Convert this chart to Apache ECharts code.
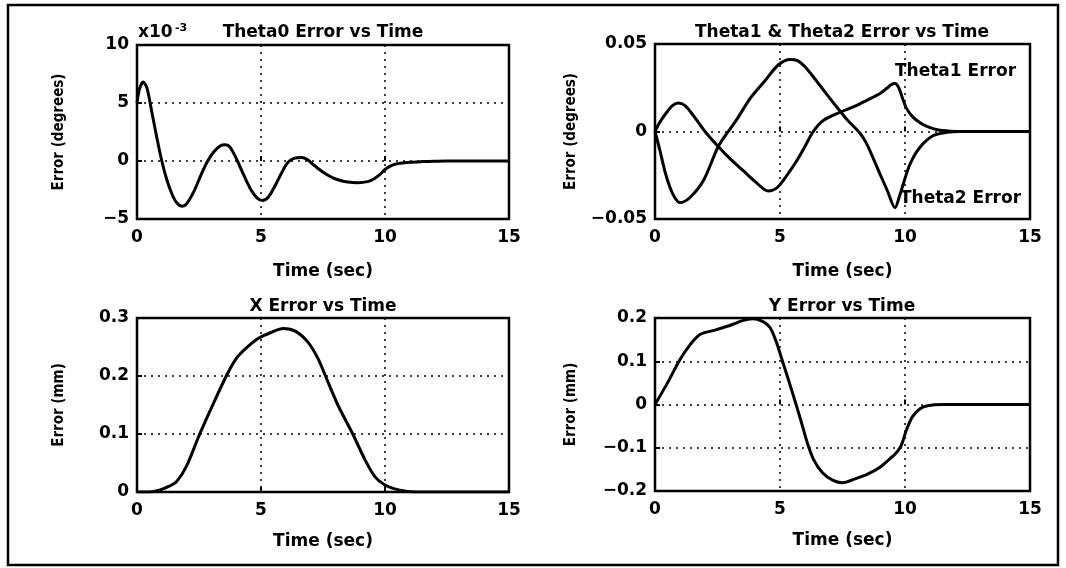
<!DOCTYPE html>
<html>
<head>
<meta charset="utf-8">
<script src="https://cdn.jsdelivr.net/npm/echarts@6/dist/echarts.min.js"></script>
<style>
  html, body { margin: 0; padding: 0; background: #fff; }
  #chart { width: 1066px; height: 568px; }
</style>
</head>
<body>
<div id="chart"></div>
<script>
// Theta0 error, in units of 1e-3 degrees
const theta0Time = [0, 0.1, 0.25, 0.4, 0.6, 0.8, 1.0, 1.2, 1.4, 1.6, 1.83, 2.0, 2.3, 2.6, 2.85, 3.1, 3.35, 3.55, 3.75, 4.05, 4.3, 4.6, 4.85, 5.05, 5.3, 5.6, 5.85, 6.05, 6.25, 6.45, 6.65, 6.85, 7.05, 7.3, 7.6, 7.9, 8.2, 8.5, 8.9, 9.3, 9.55, 9.8, 10.05, 10.3, 10.6, 11.0, 11.5, 12.0, 12.5, 15];
const theta0Err = [5.0, 6.2, 6.8, 6.3, 4.2, 2.0, 0, -1.6, -2.8, -3.6, -3.9, -3.7, -2.6, -1.1, 0, 0.8, 1.3, 1.4, 1.2, 0, -1.2, -2.5, -3.2, -3.4, -3.1, -2.0, -0.95, -0.2, 0.15, 0.28, 0.3, 0.15, -0.2, -0.65, -1.1, -1.45, -1.68, -1.82, -1.87, -1.78, -1.55, -1.15, -0.65, -0.35, -0.2, -0.1, -0.05, -0.02, 0, 0];

// Theta1 / Theta2 error (degrees)
const theta1Time = [0, 0.2, 0.47, 0.7, 0.93, 1.2, 1.53, 2.0, 2.53, 3.0, 3.53, 4.0, 4.53, 4.85, 5.13, 5.4, 5.67, 6.0, 6.33, 6.73, 7.4, 8.0, 8.47, 9.0, 9.3, 9.45, 9.6, 9.75, 9.9, 10.05, 10.3, 10.6, 10.9, 11.3, 11.8, 12.3, 15];
const theta1Err = [0, 0.0055, 0.011, 0.0148, 0.0163, 0.0148, 0.0092, 0, -0.0086, -0.0155, -0.0224, -0.0285, -0.034, -0.0325, -0.028, -0.0225, -0.0167, -0.0085, 0, 0.0063, 0.011, 0.0145, 0.0178, 0.0217, 0.025, 0.0268, 0.0274, 0.025, 0.019, 0.0135, 0.0085, 0.005, 0.0028, 0.001, 0.0002, 0, 0];
const theta2Time = [0, 0.2, 0.4, 0.6, 0.8, 1.0, 1.4, 1.93, 2.53, 2.93, 3.3, 3.8, 4.4, 4.93, 5.4, 5.7, 6.0, 6.4, 6.8, 7.27, 7.7, 8.2, 8.47, 9.0, 9.3, 9.6, 9.8, 9.93, 10.2, 10.6, 11.13, 11.67, 12.2, 15];
const theta2Err = [0, -0.011, -0.023, -0.032, -0.038, -0.0406, -0.0377, -0.0282, -0.0086, 0, 0.0075, 0.0188, 0.029, 0.038, 0.0412, 0.0405, 0.037, 0.03, 0.0225, 0.014, 0.0065, -0.001, -0.0071, -0.0243, -0.034, -0.0435, -0.036, -0.03, -0.0186, -0.009, -0.0023, -0.0005, 0, 0];

// X / Y error (mm)
const xTime = [0, 0.5, 0.9, 1.3, 1.6, 2.0, 2.5, 3.0, 3.6, 4.0, 4.4, 4.9, 5.4, 5.9, 6.4, 6.9, 7.3, 7.6, 8.1, 8.7, 9.2, 9.6, 10.0, 10.6, 11.2, 15];
const xErr = [0, 0, 0.003, 0.01, 0.018, 0.045, 0.097, 0.145, 0.2, 0.23, 0.248, 0.265, 0.275, 0.282, 0.277, 0.258, 0.23, 0.2, 0.15, 0.1, 0.055, 0.026, 0.012, 0.003, 0, 0];
const yTime = [0, 0.5, 1.0, 1.4, 1.8, 2.4, 3.1, 3.5, 3.9, 4.3, 4.6, 4.85, 5.1, 5.35, 5.6, 5.85, 6.1, 6.35, 6.7, 7.1, 7.5, 8.0, 8.5, 9.0, 9.4, 9.6, 9.8, 9.9, 10.05, 10.3, 10.6, 10.9, 11.5, 15];
const yErr = [0, 0.05, 0.104, 0.138, 0.162, 0.172, 0.185, 0.194, 0.198, 0.192, 0.178, 0.145, 0.1, 0.055, 0.008, -0.04, -0.09, -0.128, -0.158, -0.175, -0.181, -0.172, -0.161, -0.145, -0.125, -0.115, -0.1, -0.087, -0.06, -0.028, -0.01, -0.003, 0, 0];

// curve labels placed in data coordinates of the Theta1/Theta2 plot
const theta1LabelAt = [9.6, 0.034];
const theta2LabelAt = [9.8, -0.0385];

const timeTicks = { min: 0, max: 15, interval: 5 };
const yRanges = [
  { min: -5, max: 10, interval: 5 },
  { min: -0.05, max: 0.05, interval: 0.05 },
  { min: 0, max: 0.3, interval: 0.1 },
  { min: -0.2, max: 0.2, interval: 0.1 }
];
const yNames = ['Error (degrees)', 'Error (degrees)', 'Error (mm)', 'Error (mm)'];

const zip = (xs, ys) => xs.map((x, i) => [x, ys[i]]);

const FONT = '"DejaVu Sans", sans-serif';
const NARROW = '"DejaVu Sans Condensed", "Liberation Sans Narrow", "DejaVu Sans", sans-serif';

const grids = [
  { left: 137, top: 45, width: 372, height: 174 },
  { left: 655, top: 44, width: 375, height: 175 },
  { left: 137, top: 318, width: 372, height: 174 },
  { left: 655, top: 318, width: 375, height: 173 }
];
const yNameGaps = [70, 76, 70, 76];
const xNameGaps = [44, 44, 41, 41];

const dotted = { color: '#000', type: [2, 5], width: 1.5 };
const tickStyle = { inside: true, length: 5, lineStyle: { color: '#000', width: 2 } };
const labelStyle = { color: '#000', fontSize: 17, fontWeight: 'bold', fontFamily: FONT };

const chart = echarts.init(document.getElementById('chart'));

const curve = (data, i) => ({
  type: 'line',
  xAxisIndex: i,
  yAxisIndex: i,
  data: data,
  showSymbol: false,
  smooth: 0.3,
  lineStyle: { color: '#000', width: 3 },
  z: 3
});

const curveLabel = (pt, text, i) => ({
  type: 'scatter',
  xAxisIndex: i,
  yAxisIndex: i,
  data: [pt],
  symbolSize: 0,
  itemStyle: { color: '#000' },
  label: {
    show: true,
    position: 'right',
    distance: 0,
    formatter: text,
    color: '#000',
    opacity: 1,
    fontSize: 17,
    fontWeight: 'bold',
    fontFamily: FONT
  },
  emphasis: { disabled: true },
  z: 4
});

const titleText = (text, x, y) => ({
  type: 'text',
  x: x,
  y: y,
  style: { text: text, fill: '#000', font: 'bold 17px ' + FONT, textAlign: 'center', textVerticalAlign: 'middle' }
});

chart.setOption({
  animation: false,
  backgroundColor: '#fff',
  grid: grids.map(g => Object.assign({ show: true, borderColor: '#000', borderWidth: 2.5, backgroundColor: 'transparent' }, g)),
  xAxis: grids.map((g, i) => Object.assign({
    gridIndex: i,
    type: 'value',
    axisLine: { show: false },
    axisTick: tickStyle,
    axisLabel: Object.assign({ margin: 10 }, labelStyle),
    splitLine: { show: true, lineStyle: dotted },
    name: 'Time (sec)',
    nameLocation: 'middle',
    nameGap: xNameGaps[i],
    nameTextStyle: labelStyle
  }, timeTicks)),
  yAxis: grids.map((g, i) => Object.assign({
    gridIndex: i,
    type: 'value',
    axisLine: { show: false },
    axisTick: tickStyle,
    axisLabel: Object.assign({
      margin: 8,
      formatter: v => String(+v.toFixed(3)).replace('-', '\u2212')
    }, labelStyle),
    splitLine: { show: true, lineStyle: dotted },
    name: yNames[i],
    nameLocation: 'middle',
    nameRotate: 90,
    nameGap: yNameGaps[i],
    nameTextStyle: { color: '#000', fontSize: 15, fontWeight: 'bold', fontFamily: NARROW }
  }, yRanges[i])),
  series: [
    curve(zip(theta0Time, theta0Err), 0),
    curve(zip(theta1Time, theta1Err), 1),
    curve(zip(theta2Time, theta2Err), 1),
    curve(zip(xTime, xErr), 2),
    curve(zip(yTime, yErr), 3),
    curveLabel(theta1LabelAt, 'Theta1 Error', 1),
    curveLabel(theta2LabelAt, 'Theta2 Error', 1)
  ],
  graphic: [
    titleText('Theta0 Error vs Time', 323, 33),
    titleText('Theta1 & Theta2 Error vs Time', 842, 33),
    titleText('X Error vs Time', 323, 307),
    titleText('Y Error vs Time', 842, 307),
    {
      type: 'text', x: 138, y: 33,
      style: { text: 'x10', fill: '#000', font: 'bold 17px ' + FONT, textAlign: 'left', textVerticalAlign: 'middle' }
    },
    {
      type: 'text', x: 175, y: 28,
      style: { text: '-3', fill: '#000', font: 'bold 11px ' + FONT, textAlign: 'left', textVerticalAlign: 'middle' }
    },
    // mask for label overflow right of the Theta plot
    { type: 'rect', z: 90, shape: { x: 1032, y: 50, width: 25, height: 165 }, style: { fill: '#fff' } },
    // outer frame
    { type: 'rect', z: 100, shape: { x: 8, y: 5, width: 1050, height: 560 }, style: { fill: 'none', stroke: '#000', lineWidth: 2.5 } }
  ]
});

window.addEventListener('resize', () => chart.resize());
</script>
</body>
</html>
